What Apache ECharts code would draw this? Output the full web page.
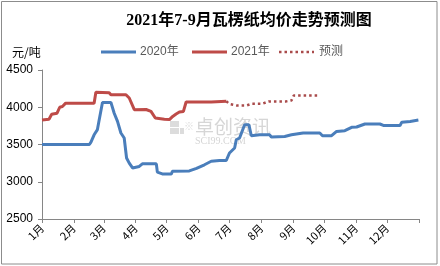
<!DOCTYPE html>
<html>
<head>
<meta charset="utf-8">
<script src="https://cdn.jsdelivr.net/npm/echarts@6/dist/echarts.min.js"></script>
<style>html,body{margin:0;padding:0;background:#fff}#c{width:440px;height:266px}</style>
</head>
<body>
<div id="c"></div>
<script>
// Month labels and their start day (day of year, leap year 2020)
const monthLabels = ['1月','2月','3月','4月','5月','6月','7月','8月','9月','10月','11月','12月'];
const monthStartDays = [0,31,60,91,121,152,182,213,244,274,305,335];
const yearEndDay = 366;

// 2020 series (day of year, price)
const days2020 = [0,46,47.4,50.6,53.8,55.5,58.7,66.9,70.1,73.3,76.6,79.8,82.1,84.7,87.9,94.4,97.4,111,112,116.8,125.6,126.6,143,150,157.7,164.3,172.3,178.9,182,187,188.6,191.8,196.7,200.9,203.2,211.3,221,222.7,235.6,242.2,253.5,269.7,272.3,281.1,286,294,300.6,305.4,313.5,328,331.4,347.6,349.3,357.4,365.4];
const vals2020 = [3500,3500,3528,3630,3700,3830,4065,4065,3920,3810,3654,3587,3319,3250,3185,3205,3240,3240,3130,3105,3105,3140,3145,3180,3228,3275,3285,3285,3386,3453,3564,3587,3765,3765,3618,3630,3630,3600,3608,3630,3654,3654,3618,3618,3676,3685,3730,3735,3775,3775,3756,3756,3800,3810,3829];

// 2021 series
const days2021 = [0,6.8,9.4,14.6,17.2,19.8,23,50.6,52.3,65.2,66.9,81.5,84.7,89.6,101,105.8,110,118.8,120.7,123.7,126.9,130.2,133.4,137.3,139.9,164.3,165.8,178.9];
const vals2021 = [3830,3840,3905,3920,4000,4010,4055,4055,4200,4195,4168,4168,4124,3967,3970,3944,3855,3840,3833,3835,3877,3909,3936,3944,4070,4070,4078,4080];

// Forecast (预测)
const daysForecast = [178.9,182,188.6,198.9,203.8,213.9,220,236.6,242.2,244.4,268];
const valsForecast = [4080,4043,4025,4025,4047,4047,4078,4078,4092,4159,4159];

const yTicks = [2500,3000,3500,4000,4500];
const seriesNames = ['2020年','2021年','预测'];
const colors = ['#4a7ebb','#be4b48','#a94b4b'];

const zip = (d, v) => d.map((x, i) => [x, v[i]]);
const chart = echarts.init(document.getElementById('c'), null, {renderer: 'canvas'});
const tickDays = monthStartDays.concat([yearEndDay]);
const labelMap = {};
monthStartDays.forEach((d, i) => labelMap[d] = monthLabels[i]);

// manual legend
const legendX = [101, 192, 279];
const legendY = 52;
const legendGraphics = [];
seriesNames.forEach((n, i) => {
  legendGraphics.push({type: 'line', shape: {x1: legendX[i], y1: legendY, x2: legendX[i] + 35, y2: legendY},
    style: i === 2 ? {stroke: colors[i], lineWidth: 2.5, lineDash: [2.5, 3]} : {stroke: colors[i], lineWidth: 3}});
  legendGraphics.push({type: 'text', x: legendX[i] + (i === 2 ? 40 : 39), y: legendY,
    style: {text: n, font: '12px "Liberation Sans", "Noto Sans CJK SC"', fill: '#595959', textVerticalAlign: 'middle'}});
});

chart.setOption({
  animation: false,
  backgroundColor: '#fff',
  grid: {left: 42, right: 21, top: 70, bottom: 47},
  xAxis: {
    type: 'value', min: 0, max: yearEndDay,
    splitLine: {show: false},
    axisLine: {lineStyle: {color: '#868686', width: 1}},
    axisTick: {show: true, length: 4, customValues: tickDays, lineStyle: {color: '#868686'}},
    axisLabel: {
      customValues: monthStartDays, rotate: 45, margin: 7,
      fontSize: 11, color: '#000', fontFamily: 'Noto Sans CJK SC',
      formatter: v => labelMap[v] || ''
    }
  },
  yAxis: {
    type: 'value', min: yTicks[0], max: yTicks[yTicks.length-1], interval: 500,
    splitLine: {show: false},
    axisLine: {show: true, lineStyle: {color: '#868686', width: 1}},
    axisTick: {show: true, length: 4, lineStyle: {color: '#868686'}},
    axisLabel: {margin: 9, fontSize: 12, color: '#000', fontFamily: 'Liberation Sans', formatter: v => String(v)}
  },
  graphic: [
    {type: 'rect', shape: {x: 1.5, y: 1.5, width: 435.5, height: 262.5}, style: {fill: 'none', stroke: '#8c8c8c', lineWidth: 1}, z: -10, silent: true},
    {type: 'text', x: 249, y: 21, style: {text: '2021年7-9月瓦楞纸均价走势预测图', font: 'bold 16px "Liberation Serif", "Noto Sans CJK SC"', fill: '#000', textAlign: 'center', textVerticalAlign: 'middle'}},
    {type: 'text', x: 12, y: 52, style: {text: '元/吨', font: '12px "Noto Sans CJK SC"', fill: '#000', textVerticalAlign: 'middle'}},
    {type: 'group', z: -5, silent: true, children: [
      {type: 'rect', shape: {x: 170, y: 121, width: 9, height: 6}, style: {fill: '#dcdcdc'}},
      {type: 'rect', shape: {x: 170, y: 128, width: 9, height: 6}, style: {fill: '#dcdcdc'}},
      {type: 'rect', shape: {x: 180, y: 128, width: 4, height: 6}, style: {fill: '#dcdcdc'}},
      {type: 'text', x: 184, y: 121, style: {text: '※', font: '10px "Noto Sans CJK SC"', fill: '#dcdcdc'}},
      {type: 'text', x: 195, y: 127, style: {text: '卓创资讯', font: '19px "Noto Sans CJK SC"', fill: '#d6d6d6', textVerticalAlign: 'middle'}},
      {type: 'text', x: 195, y: 141, style: {text: 'SCI99.COM', font: '10px "Liberation Serif"', fill: '#d6d6d6', textVerticalAlign: 'middle'}}
    ]}
  ].concat(legendGraphics),
  series: [
    {name: seriesNames[0], type: 'line', data: zip(days2020, vals2020), showSymbol: false, symbol: 'none',
     lineStyle: {color: colors[0], width: 3}, itemStyle: {color: colors[0]}},
    {name: seriesNames[1], type: 'line', data: zip(days2021, vals2021), showSymbol: false, symbol: 'none',
     lineStyle: {color: colors[1], width: 3}, itemStyle: {color: colors[1]}},
    {name: seriesNames[2], type: 'line', data: zip(daysForecast, valsForecast), showSymbol: false, symbol: 'none',
     lineStyle: {color: colors[2], width: 2.5, type: [2.5, 3], cap: 'butt'}, itemStyle: {color: colors[2]}}
  ]
});
</script>
</body>
</html>
